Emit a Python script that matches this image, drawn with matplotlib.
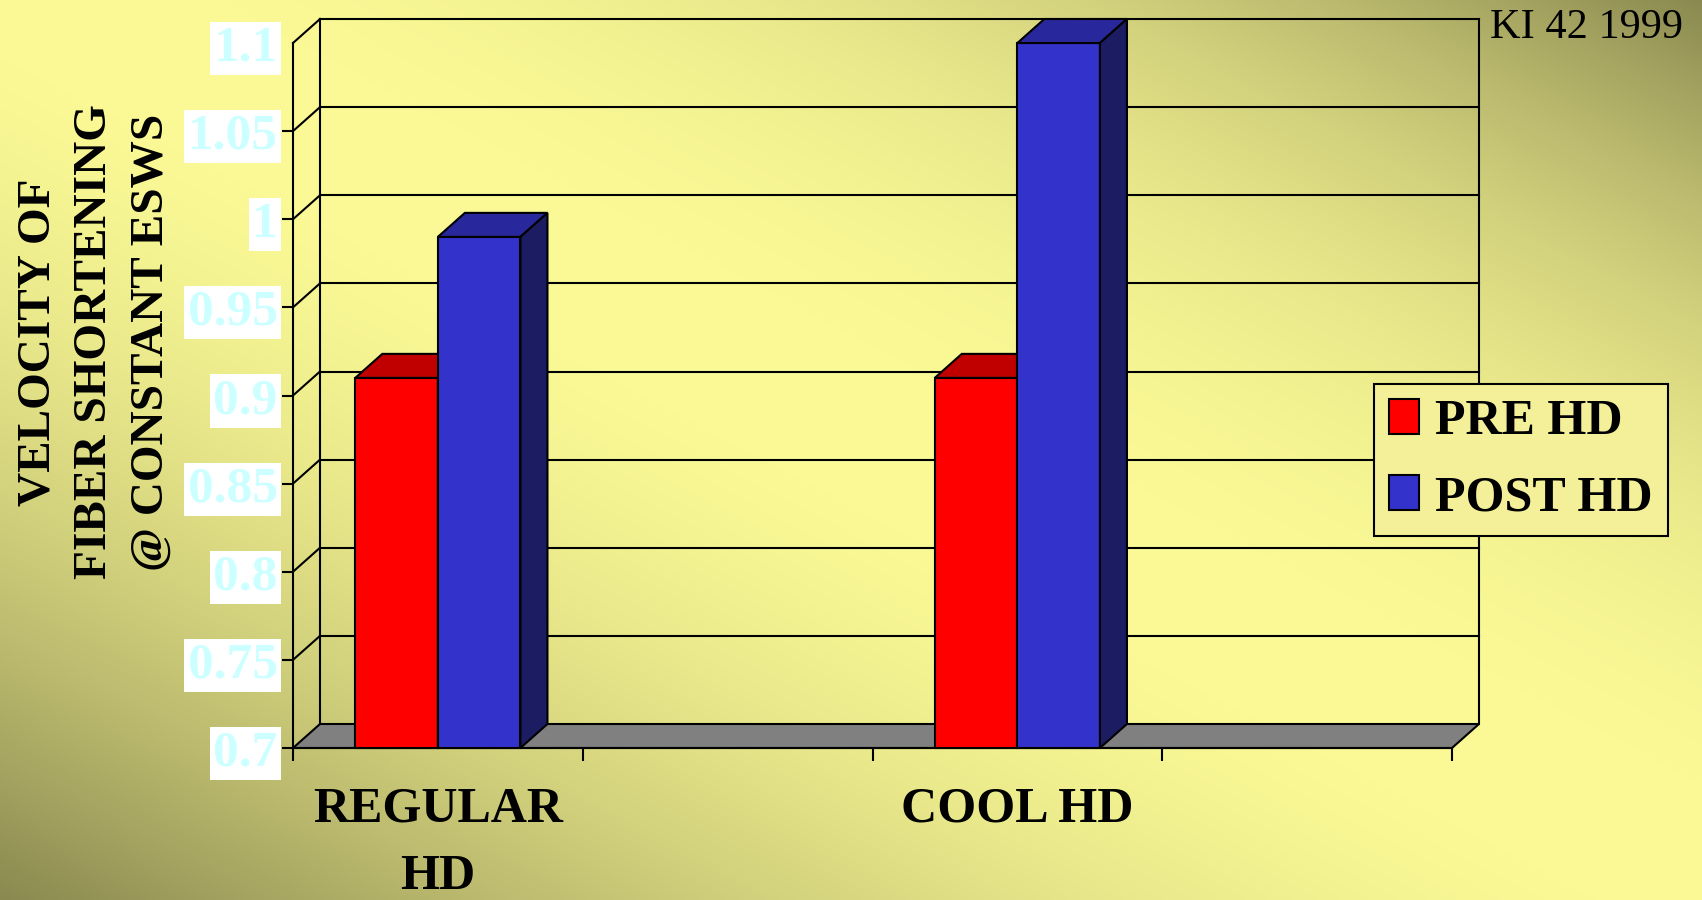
import numpy as np
import matplotlib
matplotlib.use("Agg")
import matplotlib.pyplot as plt
from matplotlib.patches import Polygon

# ---------------- data ----------------
categories = ["REGULAR\nHD", "", "COOL HD", ""]
series_names = ["PRE HD", "POST HD"]
pre_hd = [0.91, np.nan, 0.91, np.nan]
post_hd = [0.99, np.nan, 1.10, np.nan]
y_ticks = [0.7, 0.75, 0.8, 0.85, 0.9, 0.95, 1.0, 1.05, 1.1]
y_tick_labels = ["0.7", "0.75", "0.8", "0.85", "0.9", "0.95", "1", "1.05", "1.1"]
y_label = "VELOCITY OF\nFIBER SHORTENING\n@ CONSTANT ESWS"
source_note = "KI 42 1999"

# ---------------- styles ----------------
W, H = 1702, 900
SERIF = "Liberation Serif"
front_cols = ["#ff0000", "#3333cc"]
top_cols = ["#c00000", "#28289c"]
side_cols = ["#800000", "#1c1c62"]
LW = 1.5

fig = plt.figure(figsize=(W / 100, H / 100), dpi=100)

# background gradient (dark toward bottom-left / top-right corners)
bg = fig.add_axes([0, 0, 1, 1])
bg.axis("off")
xx, yy = np.meshgrid(np.linspace(0, 1, 600), np.linspace(0, 1, 320))
u = xx - yy
s = np.where(u < 0, np.abs(u) ** 1.7, np.abs(u) ** 2.3)
light = np.array([251, 250, 150]) / 255
dark = np.array([138, 137, 80]) / 255
rgb = light[None, None, :] * (1 - s[..., None]) + dark[None, None, :] * s[..., None]
bg.imshow(rgb, aspect="auto", extent=[0, 1, 0, 1], origin="upper", zorder=0)
bg.set_xlim(0, 1)
bg.set_ylim(0, 1)

# main axes = front plane of the 3-D chart
ax = fig.add_axes([293 / W, 1 - 748 / H, (1452 - 293) / W, (748 - 43) / H])
ax.patch.set_visible(False)
n = len(categories)
x = np.arange(n)
ax.set_xlim(-0.5, n - 0.5)
ax.set_ylim(y_ticks[0], y_ticks[-1])
ymin, ymax = y_ticks[0], y_ticks[-1]
xmin, xmax = -0.5, n - 0.5

# depth offset in data units (27 px right, 24 px up)
ax_w_px = (1452 - 293)
ax_h_px = (748 - 43)
dx = 27 * (xmax - xmin) / ax_w_px
dy = 24 * (ymax - ymin) / ax_h_px

for sp in ["top", "right"]:
    ax.spines[sp].set_visible(False)
for sp in ["left", "bottom"]:
    ax.spines[sp].set_linewidth(LW)
    ax.spines[sp].set_color("black")

# back wall grid lines and side-wall diagonals
for v in y_ticks[1:]:
    ax.plot([xmin + dx, xmax + dx], [v + dy, v + dy], color="black", lw=LW,
            clip_on=False, zorder=1)
    ax.plot([xmin, xmin + dx], [v, v + dy], color="black", lw=LW,
            clip_on=False, zorder=1)
ax.plot([xmin + dx, xmin + dx], [ymin + dy, ymax + dy], color="black", lw=LW,
        clip_on=False, zorder=1)
ax.plot([xmax + dx, xmax + dx], [ymin + dy, ymax + dy], color="black", lw=LW,
        clip_on=False, zorder=1)

# floor
floor = Polygon([(xmin, ymin), (xmax, ymin), (xmax + dx, ymin + dy), (xmin + dx, ymin + dy)],
                closed=True, facecolor="#808080", edgecolor="black", lw=LW,
                clip_on=False, zorder=2)
ax.add_patch(floor)

# bars
w = 0.285
handles = []
for i, vals in enumerate([pre_hd, post_hd]):
    vals = np.array(vals, dtype=float)
    lefts = x - w + i * w
    bc = ax.bar(lefts, vals - ymin, bottom=ymin, width=w, align="edge",
                color=front_cols[i], edgecolor="black", linewidth=LW,
                clip_on=False, zorder=3 + i, label=series_names[i])
    handles.append(bc)
    for xl, v in zip(lefts, vals):
        if not np.isfinite(v):
            continue
        xr = xl + w
        top = Polygon([(xl, v), (xr, v), (xr + dx, v + dy), (xl + dx, v + dy)],
                      closed=True, facecolor=top_cols[i], edgecolor="black",
                      lw=LW, clip_on=False, zorder=3 + i)
        side = Polygon([(xr, ymin), (xr, v), (xr + dx, v + dy), (xr + dx, ymin + dy)],
                       closed=True, facecolor=side_cols[i], edgecolor="black",
                       lw=LW, clip_on=False, zorder=3 + i)
        ax.add_patch(top)
        ax.add_patch(side)

# y ticks
ax.set_yticks(y_ticks)
ax.set_yticklabels(y_tick_labels, fontsize=37, fontweight="bold",
                   color="#ccffff", family=SERIF)
ax.tick_params(axis="y", length=8, width=LW, pad=3, direction="out")
ax.yaxis.get_major_ticks()[-1].tick1line.set_visible(False)
for lbl in ax.get_yticklabels():
    lbl.set_bbox(dict(facecolor="white", edgecolor="none", pad=2.5))

# x ticks: labels at centres, tick marks at category boundaries
ax.set_xticks(x)
ax.set_xticklabels(categories, fontsize=36, fontweight="bold", family=SERIF,
                   linespacing=1.6)
ax.tick_params(axis="x", which="major", length=0, pad=28)
ax.set_xticks(np.arange(n + 1) - 0.5, minor=True)
ax.tick_params(axis="x", which="minor", length=9, width=LW, direction="out")

# legend
leg = ax.legend(handles, series_names, loc="upper left",
                bbox_to_anchor=(1374 / W, 1 - 384 / H), bbox_transform=fig.transFigure,
                prop=dict(family=SERIF, weight="bold", size=36),
                frameon=True, fancybox=False, edgecolor="black", facecolor="#f4f09a",
                framealpha=1, borderpad=0.3, handlelength=0.6, handleheight=0.7,
                handletextpad=0.32, labelspacing=0.6, borderaxespad=0)
leg.get_frame().set_linewidth(LW)
leg.set_zorder(10)

# y label and source note
fig.text(95 / W, 1 - 342 / H, y_label, rotation=90, ha="center", va="center",
         fontsize=34, fontweight="bold", family=SERIF, linespacing=1.45,
         multialignment="center")
fig.text(1683 / W, 1 - 9 / H, source_note, ha="right", va="top",
         fontsize=30.5, family=SERIF, color="black")

fig.savefig("out.png", dpi=100)
